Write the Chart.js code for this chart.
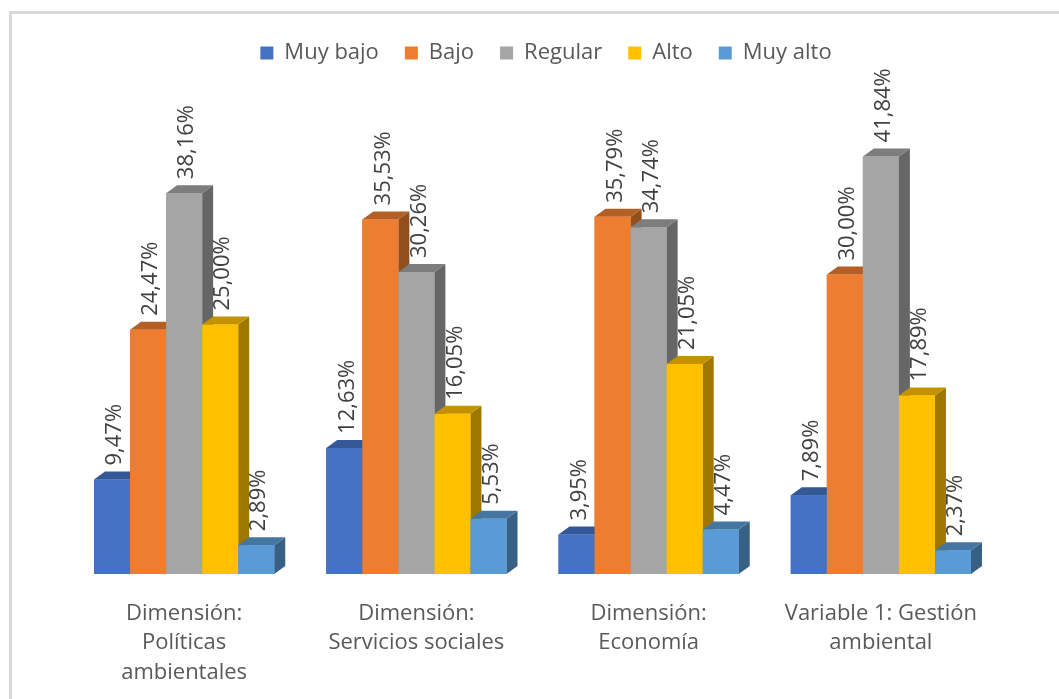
<!DOCTYPE html>
<html>
<head>
<meta charset="utf-8">
<script src="https://cdn.jsdelivr.net/npm/chart.js@4.4.1/dist/chart.umd.min.js"></script>
<style>
  html, body { margin: 0; padding: 0; background: #fff; }
  #marco {
    position: absolute; left: 9px; top: 11px; right: -10px; bottom: -10px;
    border-left: 3px solid #d9d9d9; border-top: 3px solid #d9d9d9;
  }
  #wrap { position: absolute; left: 0; top: 0; width: 1059px; height: 699px; }
</style>
</head>
<body>
<div id="marco"></div>
<div id="wrap"><canvas id="grafico"></canvas></div>
<script>
// Categorías y series (porcentajes)
const categorias = [
  ['Dimensión:', 'Políticas', 'ambientales'],
  ['Dimensión:', 'Servicios sociales'],
  ['Dimensión:', 'Economía'],
  ['Variable 1: Gestión', 'ambiental']
];
const muyBajo = [9.47, 12.63, 3.95, 7.89];
const bajo    = [24.47, 35.53, 35.79, 30.00];
const regular = [38.16, 30.26, 34.74, 41.84];
const alto    = [25.00, 16.05, 21.05, 17.89];
const muyAlto = [2.89, 5.53, 4.47, 2.37];

const series = [
  { nombre: 'Muy bajo', datos: muyBajo, color: '#4472C4' },
  { nombre: 'Bajo',     datos: bajo,    color: '#ED7D31' },
  { nombre: 'Regular',  datos: regular, color: '#A5A5A5' },
  { nombre: 'Alto',     datos: alto,    color: '#FFC000' },
  { nombre: 'Muy alto', datos: muyAlto, color: '#5B9BD5' }
];

const FUENTE = '"Open Sans", sans-serif';
const PROF_X = 11, PROF_Y = 8;   // profundidad del efecto 3D

function oscurecer(hex, f) {
  const n = parseInt(hex.slice(1), 16);
  const r = Math.round(((n >> 16) & 255) * f);
  const g = Math.round(((n >> 8) & 255) * f);
  const b = Math.round((n & 255) * f);
  return `rgb(${r},${g},${b})`;
}

function fmt(v) {
  return v.toFixed(2).replace('.', ',') + '%';
}

// Dibuja caras superior y lateral + etiqueta girada de cada barra
const barras3D = {
  id: 'barras3D',
  afterDatasetsDraw(chart) {
    const ctx = chart.ctx;
    const n = chart.data.labels.length;
    for (let c = 0; c < n; c++) {
      series.forEach((s, d) => {
        const bar = chart.getDatasetMeta(d).data[c];
        const x0 = bar.x - bar.width / 2, x1 = bar.x + bar.width / 2;
        const yt = bar.y, yb = bar.base;
        ctx.save();
        // lateral
        ctx.fillStyle = oscurecer(s.color, 0.62);
        ctx.beginPath();
        ctx.moveTo(x1, yt); ctx.lineTo(x1 + PROF_X, yt - PROF_Y);
        ctx.lineTo(x1 + PROF_X, yb - PROF_Y); ctx.lineTo(x1, yb);
        ctx.closePath(); ctx.fill();
        // superior
        ctx.fillStyle = oscurecer(s.color, 0.76);
        ctx.beginPath();
        ctx.moveTo(x0, yt); ctx.lineTo(x0 + PROF_X, yt - PROF_Y);
        ctx.lineTo(x1 + PROF_X, yt - PROF_Y); ctx.lineTo(x1, yt);
        ctx.closePath(); ctx.fill();
        // frente
        ctx.fillStyle = s.color;
        ctx.fillRect(x0, yt, x1 - x0, yb - yt);
        ctx.restore();
      });
    }
    // etiquetas de datos
    series.forEach((s, d) => {
      chart.getDatasetMeta(d).data.forEach((bar, i) => {
        ctx.save();
        ctx.translate(bar.x + 3, bar.y - PROF_Y - 6);
        ctx.rotate(-Math.PI / 2);
        ctx.font = '22px ' + FUENTE;
        ctx.fillStyle = '#404040';
        ctx.textAlign = 'left';
        ctx.textBaseline = 'middle';
        ctx.fillText(fmt(s.datos[i]), 0, 0);
        ctx.restore();
      });
    });
  }
};

new Chart(document.getElementById('grafico'), {
  type: 'bar',
  data: {
    labels: categorias,
    datasets: series.map(s => ({
      label: s.nombre,
      data: s.datos,
      backgroundColor: s.color,
      borderWidth: 0,
      categoryPercentage: 0.776,
      barPercentage: 1.0
    }))
  },
  options: {
    responsive: true,
    maintainAspectRatio: false,
    animation: false,
    layout: { padding: { left: 68, right: 35, top: 16, bottom: 12 } },
    plugins: {
      legend: {
        position: 'top',
        labels: {
          boxWidth: 13, boxHeight: 13, padding: 26,
          color: '#595959',
          font: { family: FUENTE, size: 22 }
        }
      },
      tooltip: { enabled: false }
    },
    scales: {
      x: {
        grid: { display: false },
        border: { display: false },
        afterFit(scale) { scale.height = 113; },
        ticks: {
          color: '#595959',
          padding: 17,
          font: { family: FUENTE, size: 22, lineHeight: 1.34 },
          maxRotation: 0, autoSkip: false
        }
      },
      y: {
        position: 'right',
        min: 0, max: 50.1,
        grid: { display: false },
        border: { display: false },
        ticks: { display: false },
        afterFit(scale) { scale.width = 27; }
      }
    }
  },
  plugins: [barras3D]
});
</script>
</body>
</html>
